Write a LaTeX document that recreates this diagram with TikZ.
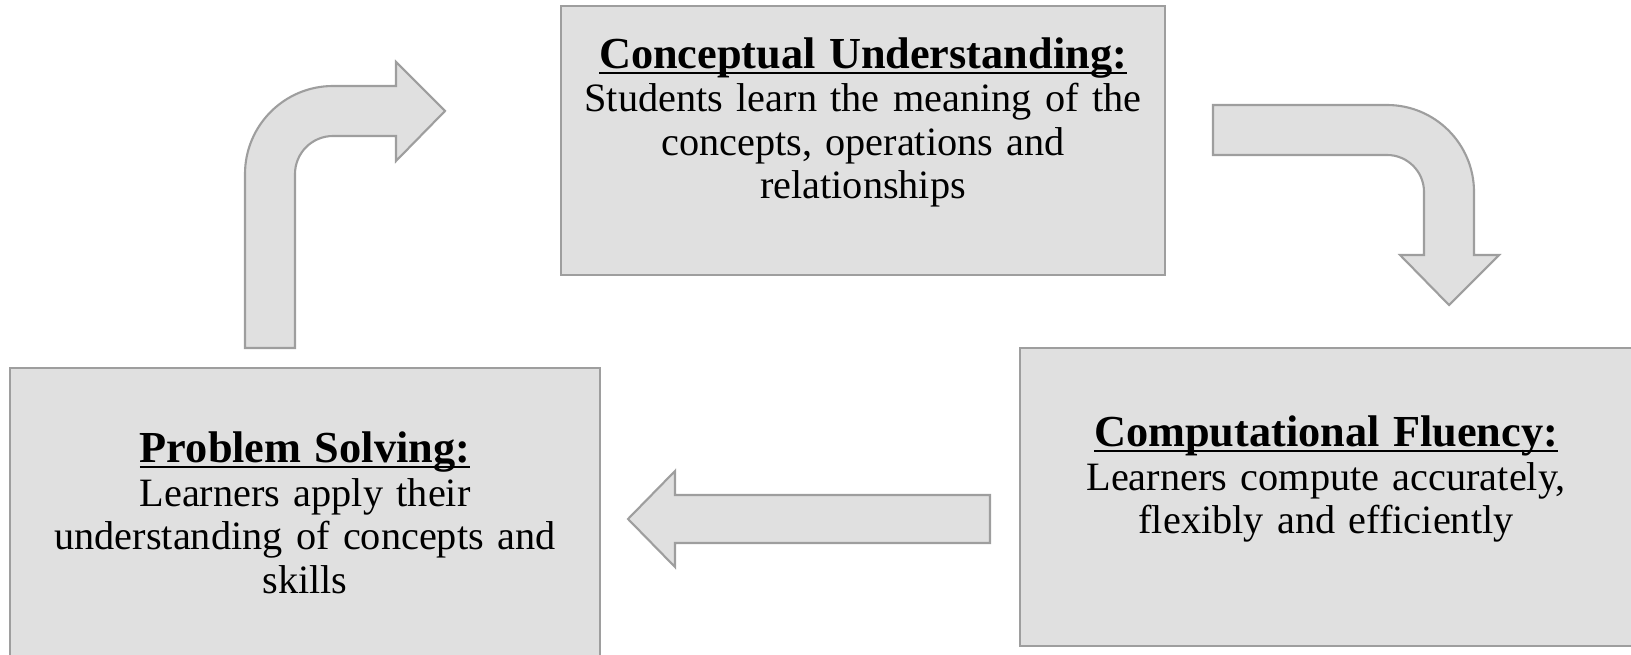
\documentclass[tikz,border=0pt]{standalone}
\usepackage{fontspec}
\setmainfont[WordSpace=0.85]{Liberation Serif}

\definecolor{boxfill}{HTML}{E0E0E0}
\definecolor{boxline}{HTML}{9E9E9E}

\newsavebox{\titlebox}
\newcommand{\stagetitle}[1]{{\fontsize{12.6}{12.38}\selectfont
  \sbox{\titlebox}{\textbf{#1}}\rlap{\rule[-1.55pt]{\wd\titlebox}{0.6pt}}\usebox{\titlebox}}}
\newcommand{\stageend}{\rule[-0.3pt]{0pt}{0.3pt}}

\tikzset{
  stage/.style={draw=boxline, fill=boxfill, line width=0.6pt, inner sep=0pt,
    align=center, font=\fontsize{11.45}{12.38}\selectfont,
    execute at begin node={\lineskiplimit=-20pt\relax}},
  blockarrow/.style={draw=boxline, fill=boxfill, line width=0.6pt, line join=miter}
}

\begin{document}
\begin{tikzpicture}[x=0.01cm, y=-0.01cm]
    \clip (0, 0) rectangle (1631, 655);

    \node[stage, text width=6.04cm, minimum height=2.69cm] (cu) at (863, 140.5)
      {\stagetitle{Conceptual Understanding:}\\
       Students learn the meaning of the\\ concepts, operations and\\ relationships\\ \stageend};
    \node[stage, text width=6.12cm, minimum height=2.975cm] (cf) at (1326, 497)
      {\stagetitle{Computational Fluency:}\\
       Learners compute accurately,\\ flexibly and efficiently\\ \stageend};
    \node[stage, text width=5.90cm, minimum height=2.90cm] (ps) at (305, 513)
      {\stagetitle{Problem Solving:}\\
       Learners apply their\\ understanding of concepts and\\ skills};

    \draw[blockarrow] (245, 348) -- (245, 174) arc (180:270:88) -- (396, 86)
      -- (396, 62) -- (445, 111) -- (396, 161) -- (396, 136) -- (333, 136)
      arc (270:180:38) -- (295, 348) -- cycle;

    \draw[blockarrow] (1213, 105) -- (1387, 105) arc (270:360:87) -- (1474, 255)
      -- (1499, 255) -- (1449, 305) -- (1400, 255) -- (1424, 255) -- (1424, 192)
      arc (0:-90:37) -- (1213, 155) -- cycle;

    \draw[blockarrow] (990, 495) -- (675, 495) -- (675, 471) -- (628, 519)
      -- (675, 567) -- (675, 543) -- (990, 543) -- cycle;
\end{tikzpicture}
\end{document}
